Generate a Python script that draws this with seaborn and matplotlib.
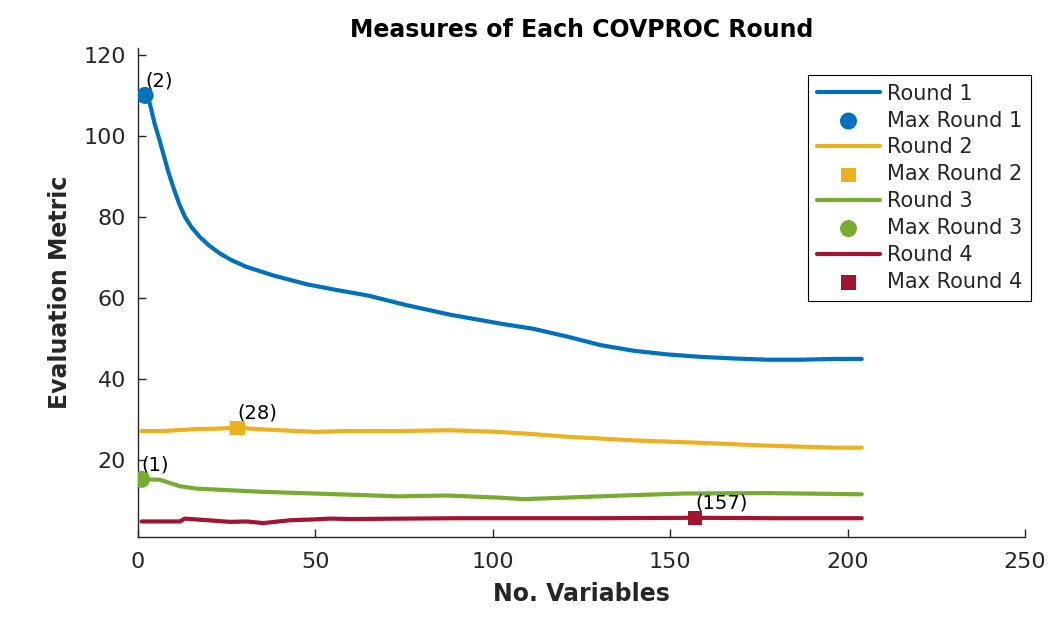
import matplotlib
matplotlib.use("Agg")
import matplotlib.pyplot as plt
import seaborn as sns
import pandas as pd

# ---- data ----
r1_x = [1, 2, 3.3, 4.7, 6, 7.1, 8.5, 9.9, 11.5, 13.2, 15, 17.4, 20, 23.1, 26.5, 30.6, 38.1, 47.6, 56, 65, 75, 88,
        102.2, 111.6, 121, 130.4, 139.8, 149.3, 158.7, 168.1, 177.5, 186.9, 196.3, 204]
r1_y = [109.6, 110.0, 108.1, 103.0, 99.2, 95.7, 91.3, 87.5, 83.5, 80.1, 77.6, 75.1, 73.0, 71.0, 69.3, 67.7, 65.6, 63.4, 62.0, 60.6, 58.4, 55.9,
        53.7, 52.4, 50.5, 48.4, 47.0, 46.1, 45.5, 45.1, 44.8, 44.8, 45.0, 45.0]

r2_x = [1, 7.1, 16.5, 22, 28, 35.3, 44.7, 50.4, 58.9, 73, 88, 101.2, 110.6,
        121, 139.8, 158.7, 177.5, 196.3, 204]
r2_y = [27.2, 27.2, 27.7, 27.8, 28.0, 27.6, 27.2, 27.0, 27.2, 27.2, 27.4, 27.0, 26.5,
        25.8, 24.9, 24.3, 23.6, 23.1, 23.1]

r3_x = [1, 6.1, 11.8, 16.5, 25.9, 35.3, 49.4, 63.6, 73, 87.1, 101.2, 108.8,
        121, 139.8, 154, 177.5, 204]
r3_y = [15.3, 15.2, 13.6, 13.0, 12.6, 12.2, 11.8, 11.4, 11.1, 11.3, 10.8, 10.4,
        10.8, 11.4, 11.8, 11.9, 11.6]

r4_x = [1, 11.8, 13.2, 16.5, 25.9, 30.6, 35.3, 42.9, 49.4, 54.2, 60, 75, 90, 110, 130, 157, 180, 204]
r4_y = [4.9, 4.9, 5.6, 5.4, 4.8, 4.9, 4.5, 5.2, 5.4, 5.6, 5.5, 5.6, 5.7, 5.7, 5.7, 5.8, 5.7, 5.7]

rounds = ["Round 1", "Round 2", "Round 3", "Round 4"]
max_x = [2, 28, 1, 157]
max_y = [110.0, 28.0, 15.3, 5.8]
markers = ["o", "s", "o", "s"]
colors = ["#0072BD", "#EDB120", "#77AC30", "#A2142F"]

x_ticks = [0, 50, 100, 150, 200, 250]
y_ticks = [20, 40, 60, 80, 100, 120]

# ---- style ----
sns.set_style("ticks")
plt.rcParams["font.family"] = ["DejaVu Sans"]
axc = "#262626"

fig = plt.figure(figsize=(10.64, 6.4), dpi=100)
ax = fig.add_axes([0.1297, 0.1609, 0.8336, 0.7641])

series = [(r1_x, r1_y), (r2_x, r2_y), (r3_x, r3_y), (r4_x, r4_y)]
for i, (xs, ys) in enumerate(series):
    df = pd.DataFrame({"x": xs, "y": ys})
    sns.lineplot(data=df, x="x", y="y", ax=ax, color=colors[i], linewidth=3,
                 label=rounds[i], estimator=None, sort=False)
    mdf = pd.DataFrame({"x": [max_x[i]], "y": [max_y[i]]})
    ms = 150 if markers[i] == "o" else 110
    sns.scatterplot(data=mdf, x="x", y="y", ax=ax, color=colors[i], marker=markers[i],
                    s=ms, edgecolor="none", label="Max " + rounds[i], zorder=5)
    ax.annotate(f"({max_x[i]})", (max_x[i], max_y[i]), xytext=(0, 10.5),
                textcoords="offset points", ha="left", va="center",
                fontsize=14, color="black")

ax.set_xlim(0, 250)
ax.set_ylim(1.06, 121.7)
ax.set_xticks(x_ticks)
ax.set_yticks(y_ticks)
ax.tick_params(direction="in", length=6, width=1, colors=axc, labelsize=16)
ax.tick_params(axis="x", pad=11)
ax.tick_params(axis="y", pad=8.5)
for s in ["top", "right"]:
    ax.spines[s].set_visible(False)
for s in ["left", "bottom"]:
    ax.spines[s].set_color(axc)
    ax.spines[s].set_linewidth(1)

ax.set_xlabel("No. Variables", fontsize=17, fontweight="bold", color=axc, labelpad=7)
ax.set_ylabel("Evaluation Metric", fontsize=17, fontweight="bold", color=axc, labelpad=8)
ax.set_title("Measures of Each COVPROC Round", fontsize=17, fontweight="bold",
             color="black", pad=8)

leg = ax.legend(loc="upper right", bbox_to_anchor=(0.969, 0.883),
                bbox_transform=fig.transFigure, fontsize=15, frameon=True,
                fancybox=False, framealpha=1, edgecolor="black", handlelength=3.0,
                handletextpad=0.35, labelspacing=0.33, borderpad=0.42, borderaxespad=0)
leg.get_frame().set_linewidth(0.8)

fig.savefig("out.png", dpi=100)
